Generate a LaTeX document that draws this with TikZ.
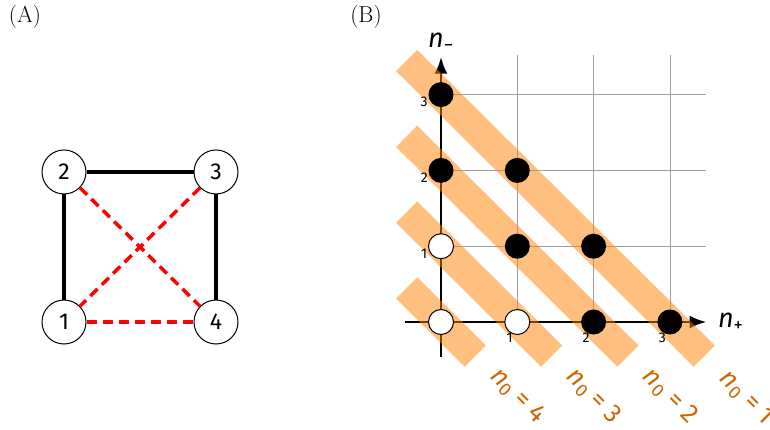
\documentclass[tikz,border=0pt]{standalone}
\usepackage{fontspec}
\newfontfamily\fira{Fira Sans}
\usetikzlibrary{arrows.meta}
\definecolor{bandorange}{RGB}{255,128,0}
\definecolor{labelorange}{RGB}{204,102,0}
\newcommand{\nsym}{{\itshape n}}
\begin{document}
\begin{tikzpicture}[x=1pt,y=-1pt,
  vtx/.style={circle,draw,line width=1pt,minimum size=44pt,inner sep=0pt,fill=white,
    font=\fira\fontsize{23}{26}\selectfont},
  solidedge/.style={line width=3.5pt},
  dashedge/.style={line width=3.5pt,red,dash pattern=on 10pt off 6pt},
  panellabel/.style={font=\fontsize{23}{26}\selectfont},
  gridline/.style={gray!75,line width=0.8pt},
  axisline/.style={line width=2.8pt,-{Latex[length=17pt,width=13pt]}},
  band/.style={line width=30pt,bandorange,opacity=0.5},
  bpt/.style={circle,fill=black,minimum size=25pt,inner sep=0pt},
  wpt/.style={circle,draw,fill=white,line width=1pt,minimum size=25pt,inner sep=0pt},
  ticklab/.style={font=\fira\fontsize{14}{16}\selectfont},
  axlab/.style={font=\fira\fontsize{27}{29}\selectfont},
  nlab/.style={font=\fira\fontsize{26}{28}\selectfont,text=labelorange,rotate=-45}]
\useasboundingbox (0,0) rectangle (770,430);
\node[panellabel] (labA) at (25,17) {(A)};
\node[panellabel] (labB) at (366,17) {(B)};
% panel A
\node[vtx] (v2) at (64,172) {2};
\node[vtx] (v3) at (216,172) {3};
\node[vtx] (v1) at (64,322) {1};
\node[vtx] (v4) at (216,322) {4};
\draw[solidedge] (v2) -- (v3);
\draw[solidedge] (v2) -- (v1);
\draw[solidedge] (v3) -- (v4);
\draw[dashedge] (v2) -- (v4);
\draw[dashedge] (v3) -- (v1);
\draw[dashedge] (v1) -- (v4);
% panel B
\begin{scope}[shift={(441,322)},x=76.3pt,y=75.8pt]
  \foreach \i in {1,2,3}{
    \draw[gridline] (\i,0) -- (\i,3.52);
    \draw[gridline] (0,\i) -- (3.47,\i);
  }
  \coordinate (xs) at (-0.47,0);
  \coordinate (xe) at (3.48,0);
  \coordinate (ys) at (0,-0.46);
  \coordinate (ye) at (0,3.5);
  \draw[axisline] (xs) -- (xe);
  \draw[axisline] (ys) -- (ye);
  \foreach \k in {0,1,2,3}{
    \draw[band] (-0.45,\k+0.45) -- (\k+0.45,-0.45);
  }
  \node[bpt] (p03) at (0,3) {};
  \node[bpt] (p02) at (0,2) {};
  \node[bpt] (p12) at (1,2) {};
  \node[bpt] (p11) at (1,1) {};
  \node[bpt] (p21) at (2,1) {};
  \node[bpt] (p20) at (2,0) {};
  \node[bpt] (p30) at (3,0) {};
  \node[wpt] (p01) at (0,1) {};
  \node[wpt] (p00) at (0,0) {};
  \node[wpt] (p10) at (1,0) {};
  \node[ticklab] (ty3) at (-0.22,2.9) {3};
  \node[ticklab] (ty2) at (-0.22,1.9) {2};
  \node[ticklab] (ty1) at (-0.22,0.9) {1};
  \node[ticklab] (tx1) at (0.9,-0.21) {1};
  \node[ticklab] (tx2) at (1.9,-0.21) {2};
  \node[ticklab] (tx3) at (2.9,-0.21) {3};
  \node[axlab,anchor=west] (nplus) at ([xshift=8pt]xe) {\nsym\textsubscript{+}};
  \node[axlab,anchor=south] (nminus) at ([yshift=2pt]ye) {\nsym\textsubscript{−}};
  \node[nlab] (n4) at (1,-0.98) {\nsym\textsubscript{0} = 4};
  \node[nlab] (n3) at (2,-0.98) {\nsym\textsubscript{0} = 3};
  \node[nlab] (n2) at (3,-0.98) {\nsym\textsubscript{0} = 2};
  \node[nlab] (n1) at (4,-1.0) {\nsym\textsubscript{0} = 1};
\end{scope}
\end{tikzpicture}
\end{document}
